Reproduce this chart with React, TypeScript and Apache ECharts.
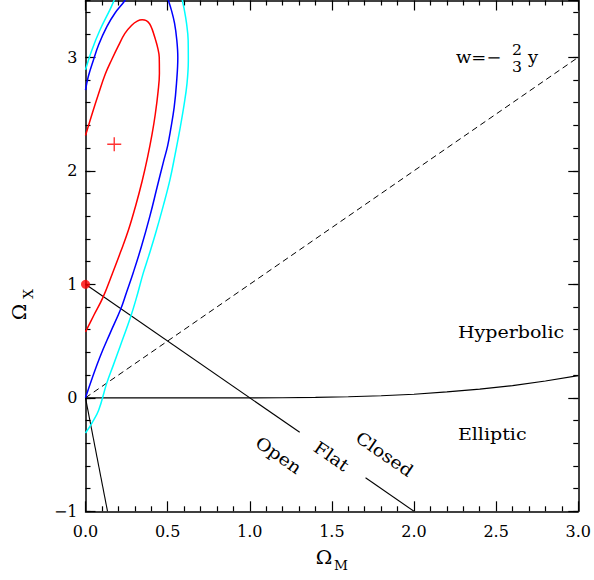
import React, { useEffect, useRef } from "react";
import * as echarts from "echarts";

const FONT = '"DejaVu Serif", "Liberation Serif", serif';

// ---- data ----
const redContour: number[][] = [
  [0, 0.58], [0.05, 0.725], [0.105, 0.88], [0.165, 1.1], [0.215, 1.29], [0.262, 1.48],
  [0.305, 1.69], [0.345, 1.91], [0.378, 2.12], [0.405, 2.32], [0.425, 2.5], [0.442, 2.7],
  [0.45, 2.86], [0.449, 3.0], [0.44, 3.08], [0.425, 3.16], [0.405, 3.25], [0.39, 3.295],
  [0.37, 3.322], [0.345, 3.33], [0.315, 3.318], [0.28, 3.28], [0.24, 3.21], [0.2, 3.1],
  [0.16, 2.98], [0.12, 2.85], [0.08, 2.68], [0.04, 2.5], [0, 2.31],
];
const blueContourRight: number[][] = [
  [0, 0], [0.04, 0.17], [0.088, 0.36], [0.15, 0.57], [0.214, 0.78], [0.25, 0.93],
  [0.29, 1.1], [0.34, 1.33], [0.392, 1.6], [0.435, 1.85], [0.473, 2.07], [0.5, 2.22],
  [0.518, 2.36], [0.54, 2.56], [0.554, 2.77], [0.562, 3.0], [0.556, 3.15], [0.542, 3.3],
  [0.522, 3.42], [0.5, 3.52], [0.49, 3.56],
];
const blueContourLeft: number[][] = [
  [0.26, 3.56], [0.24, 3.5], [0.18, 3.39], [0.13, 3.27], [0.08, 3.11], [0.047, 2.97],
  [0.017, 2.83], [0, 2.71],
];
const cyanContourRight: number[][] = [
  [0, -0.31], [0.04, -0.22], [0.08, -0.11], [0.129, 0.127], [0.17, 0.29], [0.21, 0.45],
  [0.275, 0.714], [0.31, 0.88], [0.351, 1.096], [0.385, 1.25], [0.425, 1.44], [0.475, 1.7],
  [0.514, 1.92], [0.545, 2.14], [0.574, 2.36], [0.6, 2.58], [0.618, 2.77], [0.626, 2.97],
  [0.625, 3.15], [0.615, 3.3], [0.6, 3.43], [0.59, 3.5], [0.585, 3.55],
];
const cyanContourLeft: number[][] = [
  [0.19, 3.55], [0.18, 3.52], [0.149, 3.42], [0.088, 3.24], [0.038, 3.06], [0, 2.89],
];
const flatUpper: number[][] = [[0, 1], [1.304, -0.304]];
const flatLower: number[][] = [[1.705, -0.705], [2, -1]];
const wLine: number[][] = [[0, 0], [3, 3]];
const steepLine: number[][] = [[0, 0], [0.134, -1]];
const boundaryX = [0, 0.5, 1.0, 1.2, 1.4, 1.6, 1.8, 2.0, 2.2, 2.4, 2.6, 2.8, 3.0];
const boundaryY = [0, 0, 0, 0.0005, 0.003, 0.009, 0.018, 0.031, 0.052, 0.077, 0.107, 0.148, 0.195];
const bestFit = [0.175, 2.233];
const flatPoint = [0, 1];

const slantNames = ["Open", "Flat", "Closed"];
const slantAt: number[][] = [[1.176, -0.504], [1.498, -0.514], [1.821, -0.496]];
const regionNames = ["Hyperbolic", "Elliptic"];
const regionAt: number[][] = [[2.267, 0.579], [2.267, -0.32]];

const X_MIN = 0, X_MAX = 3, Y_MIN = -1, Y_MAX = 3.5;

export default function App() {
  const ref = useRef<HTMLDivElement>(null);
  useEffect(() => {
    if (!ref.current) return;
    const chart = echarts.init(ref.current, undefined, { renderer: "svg" });
    const axisLine = { show: true, onZero: false, lineStyle: { color: "#000", width: 1.5 } };
    const mkX = (pos: string, labels: boolean) => ({
      type: "value", position: pos, min: X_MIN, max: X_MAX, interval: 0.5,
      axisLine, splitLine: { show: false },
      axisTick: { show: true, inside: true, length: 10, lineStyle: { color: "#000", width: 1.2 } },
      minorTick: { show: true, splitNumber: 5, length: 5, lineStyle: { color: "#000", width: 1.2 } },
      axisLabel: labels
        ? { show: true, margin: 12, fontSize: 16, fontFamily: FONT, color: "#000", formatter: (v: number) => v.toFixed(1) }
        : { show: false },
    });
    const mkY = (pos: string, labels: boolean, interval: number, len: number) => ({
      type: "value", position: pos, min: Y_MIN, max: Y_MAX, interval,
      axisLine: interval === 1 ? axisLine : { show: false, onZero: false },
      splitLine: { show: false },
      axisTick: { show: true, inside: true, length: len, lineStyle: { color: "#000", width: 1.2 } },
      minorTick: { show: false },
      axisLabel: labels
        ? { show: true, margin: 8, fontSize: 16, fontFamily: FONT, color: "#000", showMaxLabel: false,
            formatter: (v: number) => String(Math.round(v)).replace("-", "\u2212") }
        : { show: false },
    });
    const line = (data: number[][], color: string, width: number, extra: any = {}) => ({
      type: "line", data, showSymbol: false, symbol: "none", clip: true,
      lineStyle: { color, width, ...extra }, z: 3,
    });
    chart.setOption({
      animation: false,
      backgroundColor: "#fff",
      grid: { left: 85.5, top: 0.5, right: 15, bottom: 68.7, containLabel: false },
      xAxis: [mkX("bottom", true), mkX("top", false)],
      yAxis: [
        mkY("left", true, 1, 10), mkY("left", false, 0.2, 5),
        mkY("right", false, 1, 10), mkY("right", false, 0.2, 5),
      ],
      series: [
        line(boundaryX.map((x, i) => [x, boundaryY[i]]), "#000", 1.2),
        line(wLine, "#000", 1, { type: [6, 4] }),
        line(flatUpper, "#000", 1.1),
        line(flatLower, "#000", 1.1),
        line(steepLine, "#000", 1.1),
        { ...line(cyanContourRight, "#00ffff", 1.5), smooth: 0.4 },
        { ...line(cyanContourLeft, "#00ffff", 1.5), smooth: 0.4 },
        { ...line(blueContourRight, "#0000ff", 1.5), smooth: 0.4 },
        { ...line(blueContourLeft, "#0000ff", 1.5), smooth: 0.4 },
        { ...line(redContour, "#ff0000", 1.5), smooth: 0.4 },
        {
          type: "scatter", data: [flatPoint], symbol: "circle", symbolSize: 9,
          itemStyle: { color: "#ff0000" }, z: 6, clip: false,
        },
        {
          type: "scatter", data: [bestFit], symbolSize: 14,
          symbol: "path://M6.3,0H7.7V6.3H14V7.7H7.7V14H6.3V7.7H0V6.3H6.3Z",
          itemStyle: { color: "#ff0000" }, z: 6,
        },
      ],
    });
    const px = (p: number[]) => chart.convertToPixel({ xAxisIndex: 0, yAxisIndex: 0 }, p) as number[];
    const txt = (text: string, x: number, y: number, size: number, align: string, extra: any = {}) => ({
      type: "text", x, y, z: 10, scaleX: 1.12, ...extra,
      style: { text, font: `${size}px ${FONT}`, fill: "#000", align, verticalAlign: "middle" },
    });
    const graphics: any[] = [];
    slantNames.forEach((n, i) => {
      const p = px(slantAt[i]);
      graphics.push(txt(n, p[0], p[1], 17, "center", { rotation: (-34.6 * Math.PI) / 180 }));
    });
    regionNames.forEach((n, i) => {
      const p = px(regionAt[i]);
      graphics.push(txt(n, p[0], p[1], 17, "left"));
    });
    graphics.push(
      txt("w=\u2212", 456, 57, 16, "left"),
      txt("2", 517, 50.5, 15, "center", { scaleX: 1.05 }),
      txt("3", 517, 67.5, 15, "center", { scaleX: 1.05 }),
      txt("y", 528, 57, 17, "left", { scaleX: 1.05 }),
      txt("\u03a9", 324, 558, 19, "center", { scaleX: 1.05 }),
      txt("M", 341, 566, 13, "center", { scaleX: 1.05 }),
      txt("\u03a9", 20, 312, 19, "center", { rotation: Math.PI / 2, scaleX: 1.05 }),
      txt("X", 29, 294, 13, "center", { rotation: Math.PI / 2, scaleX: 1.05 }),
    );
    chart.setOption({ graphic: graphics });
    return () => chart.dispose();
  }, []);
  return <div ref={ref} style={{ position: "fixed", left: 0, top: 0, width: 594, height: 580 }} />;
}
